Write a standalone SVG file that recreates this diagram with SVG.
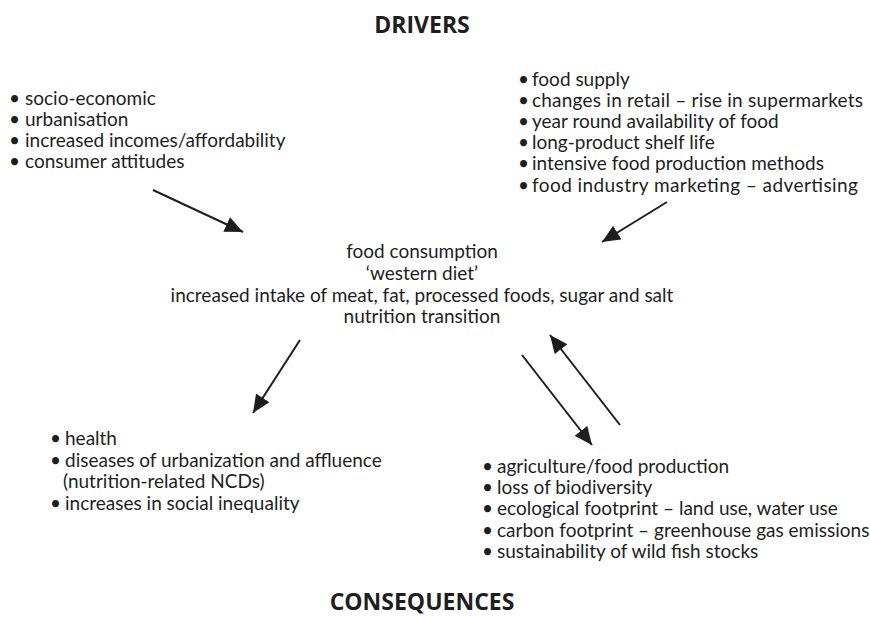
<svg xmlns="http://www.w3.org/2000/svg" width="870" height="617" viewBox="0 0 870 617">
<style>
text{font-family:Lato,"Open Sans","Liberation Sans",sans-serif;fill:#1e1e1e;font-size:19px}
.h{font-family:"Open Sans","Liberation Sans",sans-serif;font-weight:bold;font-size:23px;text-anchor:middle}
.c{text-anchor:middle}
.ln{stroke:#1e1e1e;stroke-width:2;fill:none;marker-end:url(#ah)}
</style>
<defs>
<marker id="ah" viewBox="0 0 18 16" refX="18" refY="8" markerWidth="18" markerHeight="16" markerUnits="userSpaceOnUse" orient="auto">
<path d="M0,0 L18,8 L0,16 z" fill="#1e1e1e"/>
</marker>
</defs>
<rect width="870" height="617" fill="#fff"/>
<g id="title-drivers"><text class="h" x="422" y="33">DRIVERS</text></g>
<g id="drivers-left">
<text x="9" y="105">•</text><text x="25" y="105">socio-economic</text>
<text x="9" y="126">•</text><text x="25" y="126">urbanisation</text>
<text x="9" y="147">•</text><text x="25" y="147">increased incomes/affordability</text>
<text x="9" y="168">•</text><text x="25" y="168">consumer attitudes</text>
</g>
<g id="drivers-right">
<text x="518" y="86">•</text><text x="532" y="86">food supply</text>
<text x="518" y="107">•</text><text x="532" y="107" textLength="331">changes in retail – rise in supermarkets</text>
<text x="518" y="128">•</text><text x="532" y="128">year round availability of food</text>
<text x="518" y="149">•</text><text x="532" y="149">long-product shelf life</text>
<text x="518" y="170">•</text><text x="532" y="170">intensive food production methods</text>
<text x="518" y="192">•</text><text x="532" y="192" textLength="326">food industry marketing – advertising</text>
</g>
<g id="food-consumption">
<text class="c" x="422" y="258">food consumption</text>
<text class="c" x="422" y="280">‘western diet’</text>
<text class="c" x="422" y="302">increased intake of meat, fat, processed foods, sugar and salt</text>
<text class="c" x="422" y="323">nutrition transition</text>
</g>
<g id="health">
<text x="50" y="445">•</text><text x="65" y="445">health</text>
<text x="50" y="467">•</text><text x="65" y="467">diseases of urbanization and affluence</text>
<text x="63" y="488">(nutrition-related NCDs)</text>
<text x="50" y="510">•</text><text x="65" y="510">increases in social inequality</text>
</g>
<g id="environment">
<text x="482" y="473">•</text><text x="497" y="473">agriculture/food production</text>
<text x="482" y="494">•</text><text x="497" y="494">loss of biodiversity</text>
<text x="482" y="515">•</text><text x="497" y="515">ecological footprint – land use, water use</text>
<text x="482" y="537">•</text><text x="497" y="537">carbon footprint – greenhouse gas emissions</text>
<text x="482" y="558">•</text><text x="497" y="558">sustainability of wild fish stocks</text>
</g>
<g id="title-consequences"><text class="h" x="422" y="610">CONSEQUENCES</text></g>
<g id="connectors">
<line class="ln" x1="153" y1="190" x2="243" y2="232"/>
<line class="ln" x1="667" y1="202" x2="602" y2="242"/>
<line class="ln" x1="300" y1="340" x2="253" y2="413"/>
<line class="ln" x1="522" y1="355" x2="592" y2="445"/>
<line class="ln" x1="620" y1="425" x2="550" y2="335"/>
</g>
</svg>
